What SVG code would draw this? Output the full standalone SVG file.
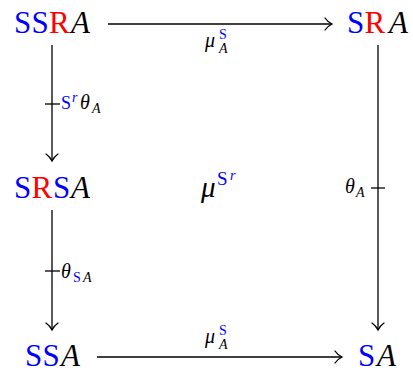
<svg xmlns="http://www.w3.org/2000/svg" width="413" height="372" viewBox="0 0 413 372">
<style>
text{font-family:"Times New Roman","Liberation Serif",Times,"DejaVu Serif","Noto Serif",serif}
.n{font-size:31px}
.b{fill:#0000ff}
.r{fill:#ff0000}
.i{font-style:italic}
.l{font-size:20px}
.s{font-size:14px}
.e{stroke:#000;stroke-width:1.3;fill:none}
</style>
<defs>
<marker id="ah" markerUnits="userSpaceOnUse" markerWidth="14" markerHeight="14" viewBox="-8 -7 9 14" refX="0" refY="0" orient="auto" overflow="visible">
<path d="M-7,-6 C-5,-3 -2,-1 0,0 C-2,1 -5,3 -7,6" stroke="#000" stroke-width="1.3" fill="none" stroke-linecap="round"/>
</marker>
</defs>
<g id="connectors">
<line class="e" x1="108" y1="24" x2="332" y2="24" marker-end="url(#ah)"/>
<line class="e" x1="52" y1="45" x2="52" y2="161" marker-end="url(#ah)"/>
<line class="e" x1="52" y1="210" x2="52" y2="330" marker-end="url(#ah)"/>
<line class="e" x1="97" y1="357" x2="342" y2="357" marker-end="url(#ah)"/>
<line class="e" x1="378" y1="45" x2="378" y2="330" marker-end="url(#ah)"/>
<line class="e" x1="45" y1="104" x2="60" y2="104"/>
<line class="e" x1="45" y1="271" x2="60" y2="271"/>
<line class="e" x1="371" y1="188" x2="385" y2="188"/>
<g id="label-top">
<text class="l i" x="205" y="47">μ</text>
<text class="s b" x="219" y="39">S</text>
<text class="s i" x="219" y="53">A</text>
</g>
<g id="label-bottom">
<text class="l i" x="205" y="343">μ</text>
<text class="s b" x="219" y="335">S</text>
<text class="s i" x="219" y="349">A</text>
</g>
<g id="label-left1">
<text class="b" x="61" y="109" font-size="18">S</text>
<text class="s b i" x="72" y="102">r</text>
<text class="l i" x="80" y="109">θ</text>
<text class="s i" x="92" y="113">A</text>
</g>
<g id="label-left2">
<text class="l i" x="61" y="278">θ</text>
<text class="s b" x="73" y="282">S</text>
<text class="s i" x="83" y="282">A</text>
</g>
<g id="label-right">
<text class="l i" x="345" y="193">θ</text>
<text class="s i" x="356" y="197">A</text>
</g>
</g>
<g id="node-SSRA">
<text class="n"><tspan class="b" x="14" y="33">S</tspan><tspan class="b" x="31.5" y="33">S</tspan><tspan class="r" x="49" y="33">R</tspan><tspan class="i" x="71" y="33">A</tspan></text>
</g>
<g id="node-SRA">
<text class="n"><tspan class="b" x="347" y="33">S</tspan><tspan class="r" x="364.5" y="33">R</tspan><tspan class="i" x="389" y="33">A</tspan></text>
</g>
<g id="node-SRSA">
<text class="n"><tspan class="b" x="14" y="198">S</tspan><tspan class="r" x="31.5" y="198">R</tspan><tspan class="b" x="53" y="198">S</tspan><tspan class="i" x="71" y="198">A</tspan></text>
</g>
<g id="node-center">
<text class="i" x="201" y="197" font-size="29">μ</text>
<text class="b" x="217" y="185" font-size="19">S</text>
<text class="b i" x="230" y="180" font-size="14">r</text>
</g>
<g id="node-SSA">
<text class="n"><tspan class="b" x="25" y="366">S</tspan><tspan class="b" x="42.5" y="366">S</tspan><tspan class="i" x="61" y="366">A</tspan></text>
</g>
<g id="node-SA">
<text class="n"><tspan class="b" x="358" y="366">S</tspan><tspan class="i" x="377" y="366">A</tspan></text>
</g>
</svg>
